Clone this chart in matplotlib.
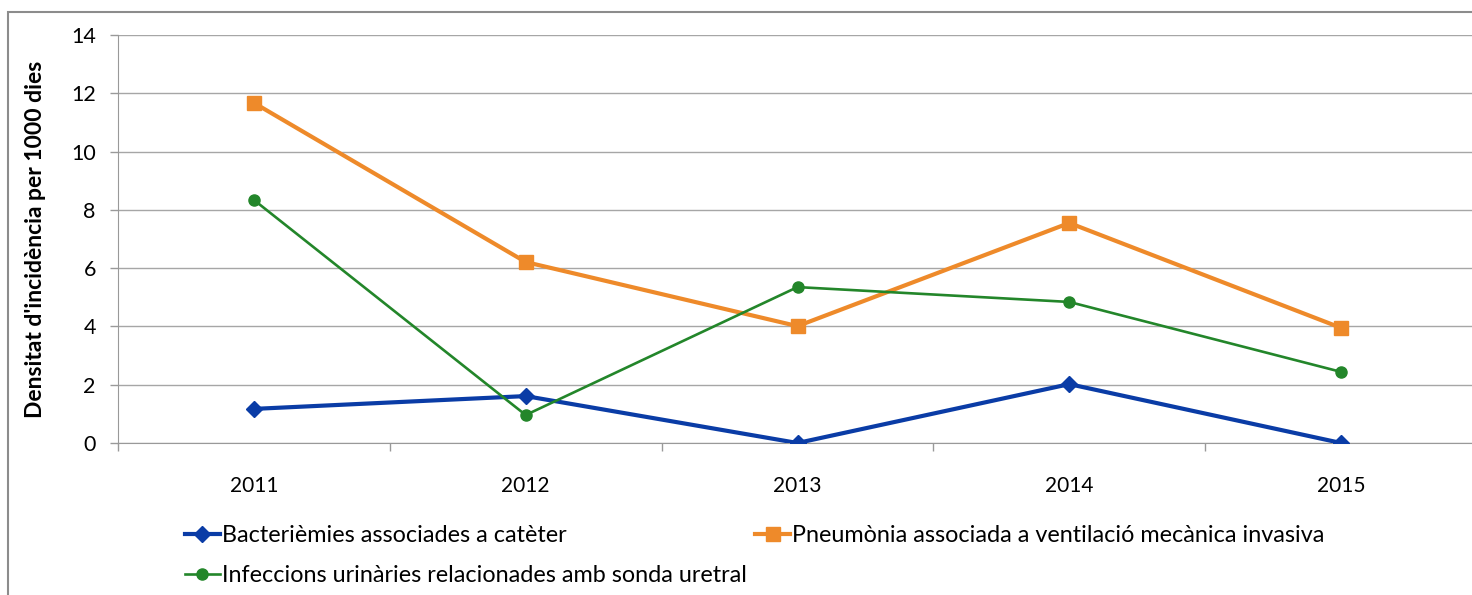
import numpy as np
import matplotlib.pyplot as plt
from matplotlib.patches import Rectangle

plt.rcParams['font.family'] = ['Lato', 'DejaVu Sans']

# dades
anys = ['2011', '2012', '2013', '2014', '2015']
bacteriemies = [1.17, 1.61, 0.0, 2.02, 0.0]
pneumonia = [11.67, 6.21, 4.01, 7.55, 3.95]
infeccions = [8.34, 0.96, 5.35, 4.84, 2.44]

noms = ['Bacterièmies associades a catèter',
        'Pneumònia associada a ventilació mecànica invasiva',
        'Infeccions urinàries relacionades amb sonda uretral']
colors = ['#0A3CA6', '#EE8A2A', '#23862A']

fig = plt.figure(figsize=(14.72, 5.95), dpi=100)
ax = fig.add_axes([118 / 1472, 152 / 595, 1359 / 1472, 408 / 595])

x = np.arange(len(anys))
l1, = ax.plot(x, bacteriemies, color=colors[0], lw=3, marker='D', ms=8, zorder=3)
l2, = ax.plot(x, pneumonia, color=colors[1], lw=3, marker='s', ms=10, zorder=3)
l3, = ax.plot(x, infeccions, color=colors[2], lw=1.9, marker='o', ms=8, zorder=3)

ax.set_xlim(-0.5, len(anys) - 0.5)
ax.set_ylim(0, 14)
ax.set_yticks(np.arange(0, 15, 2))
ax.set_xticks(x)
ax.set_xticklabels(anys)
ax.set_xticks(np.arange(-0.5, len(anys)), minor=True)
ax.tick_params(axis='x', which='major', length=0, pad=24, labelsize=15)
ax.tick_params(axis='x', which='minor', length=6, color='#999999', width=1)
ax.tick_params(axis='y', length=6, color='#999999', width=1, pad=10, labelsize=15.5)

ax.grid(axis='y', color='#A6A6A6', lw=1)
ax.set_axisbelow(True)
for s in ['top', 'right']:
    ax.spines[s].set_visible(False)
for s in ['left', 'bottom']:
    ax.spines[s].set_color('#999999')

ax.set_ylabel("Densitat d'incidència per 1000 dies", fontsize=16.5, fontweight='bold')
ax.yaxis.set_label_coords(-0.053, 0.5)

# llegenda en dues parts
leg1 = fig.legend([l1, l3], [noms[0], noms[2]], loc='upper left',
                  bbox_to_anchor=(185 / 1472, 1 - 525 / 595), frameon=False,
                  fontsize=16.8, borderpad=0, borderaxespad=0, handlelength=1.5,
                  handletextpad=0.1, labelspacing=0.8)
leg2 = fig.legend([l2], [noms[1]], loc='upper left',
                  bbox_to_anchor=(755 / 1472, 1 - 525 / 595), frameon=False,
                  fontsize=16.8, borderpad=0, borderaxespad=0, handlelength=1.5,
                  handletextpad=0.1)

# marc del gràfic
fig.patches.append(Rectangle((8 / 1472, -0.1), 2, 1.1 - 12 / 595, transform=fig.transFigure,
                             fill=False, edgecolor='#8C8C8C', lw=1.5))

fig.savefig('out.png', dpi=100)
